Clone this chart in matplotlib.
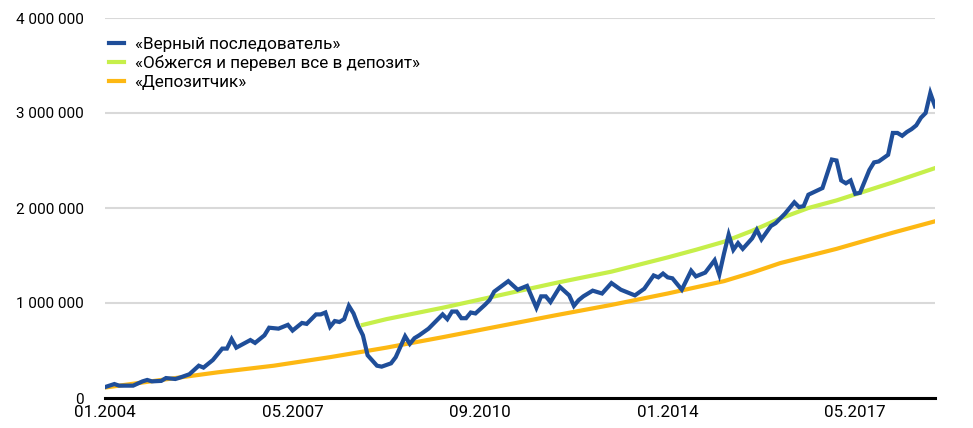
import matplotlib
matplotlib.use('Agg')
import matplotlib.pyplot as plt
from matplotlib.ticker import FuncFormatter

plt.rcParams['font.family'] = ['Roboto', 'DejaVu Sans']

# месяцы от 01.2004 (0 = 01.2004)
blue_month = [0, 2, 3, 6, 8, 9, 10, 12, 13, 15, 16, 18, 20, 21, 23, 25, 26, 27, 28,
              31, 32, 34, 35, 37, 39, 40, 42, 43, 45, 46, 47, 48, 49, 50, 51, 52, 53,
              54, 55, 56, 58, 59, 61, 62, 63, 64, 65, 66, 67, 69, 70, 72, 73, 74, 75,
              76, 77, 78, 79, 81, 82, 83, 86, 88, 90, 92, 93, 94, 95, 97, 99, 100,
              101, 102, 104, 106, 108, 110, 113, 115, 117, 118, 119, 120, 121, 123,
              125, 126, 128, 130, 131, 132, 133, 134, 135, 136, 138, 139, 140, 142,
              143, 145, 147, 148, 149, 150, 153, 155, 156, 157, 158, 159, 160, 161,
              163, 164, 165, 167, 168, 169, 170, 171, 172, 173, 174, 175, 176, 177]
blue_value = [0.115, 0.147, 0.13, 0.13, 0.175, 0.19, 0.175, 0.18, 0.21, 0.20, 0.215,
              0.25, 0.34, 0.32, 0.40, 0.52, 0.52, 0.62, 0.53, 0.61, 0.58, 0.66, 0.74,
              0.73, 0.77, 0.71, 0.79, 0.78, 0.88, 0.88, 0.90, 0.75, 0.81, 0.80, 0.83,
              0.97, 0.89, 0.76, 0.66, 0.45, 0.34, 0.33, 0.365, 0.43, 0.54, 0.65, 0.57,
              0.63, 0.66, 0.73, 0.78, 0.88, 0.83, 0.91, 0.91, 0.84, 0.84, 0.90, 0.89,
              0.98, 1.03, 1.12, 1.23, 1.14, 1.18, 0.95, 1.07, 1.07, 1.01, 1.17, 1.08,
              0.97, 1.03, 1.07, 1.13, 1.10, 1.21, 1.14, 1.08, 1.15, 1.29, 1.27, 1.31,
              1.27, 1.26, 1.14, 1.34, 1.28, 1.32, 1.45, 1.30, 1.52, 1.72, 1.56, 1.63,
              1.57, 1.68, 1.77, 1.67, 1.81, 1.84, 1.94, 2.06, 2.01, 2.02, 2.14, 2.21,
              2.51, 2.50, 2.29, 2.26, 2.29, 2.15, 2.16, 2.40, 2.48, 2.49, 2.56, 2.79,
              2.79, 2.76, 2.80, 2.83, 2.87, 2.95, 3.00, 3.21, 3.07]

green_month = [55, 60, 72, 84, 96, 108, 120, 126, 132, 138, 144, 150, 156, 168, 177]
green_value = [0.77, 0.83, 0.95, 1.08, 1.21, 1.33, 1.48, 1.56, 1.645, 1.76, 1.89,
               2.00, 2.08, 2.27, 2.42]

orange_month = [0, 12, 24, 36, 48, 60, 72, 84, 96, 108, 120, 126, 132, 138, 144,
                156, 168, 177]
orange_value = [0.11, 0.19, 0.27, 0.34, 0.43, 0.53, 0.64, 0.755, 0.87, 0.98, 1.10,
                1.165, 1.23, 1.32, 1.42, 1.57, 1.74, 1.86]

tick_month = [0, 40, 80, 120, 160]
tick_label = ['01.2004', '05.2007', '09.2010', '01.2014', '05.2017']

fig = plt.figure(figsize=(9.73, 4.28), dpi=100)
ax = fig.add_axes([105 / 973, 30 / 428, 830 / 973, 380 / 428])

ax.plot(orange_month, [v * 1e6 for v in orange_value], color='#FDB813', lw=3,
        label='«Депозитчик»', zorder=3)
ax.plot(green_month, [v * 1e6 for v in green_value], color='#C6EF4A', lw=3,
        label='«Обжегся и перевел все в депозит»', zorder=3)
ax.plot(blue_month, [v * 1e6 for v in blue_value], color='#1F4E99', lw=3,
        label='«Верный последователь»', zorder=4, solid_joinstyle='miter')

ax.set_xlim(0, 177)
ax.set_ylim(0, 4e6)
ax.set_yticks([0, 1e6, 2e6, 3e6, 4e6])
ax.yaxis.set_major_formatter(FuncFormatter(lambda v, p: f'{v:,.0f}'.replace(',', ' ')))
ax.set_xticks(tick_month)
ax.set_xticklabels(tick_label)

for s in ['top', 'right', 'left']:
    ax.spines[s].set_visible(False)
ax.spines['bottom'].set_color('black')
ax.spines['bottom'].set_linewidth(2.2)
ax.spines['bottom'].set_zorder(5)
ax.grid(axis='y', color='#d9d9d9', lw=1.5)
ax.set_axisbelow(True)
ax.tick_params(axis='both', length=0)
ax.tick_params(axis='y', pad=15, labelsize=11)
ax.tick_params(axis='x', pad=5, labelsize=12.2)

h, l = ax.get_legend_handles_labels()
order = [2, 1, 0]
ax.legend([h[i] for i in order], [l[i] for i in order], loc='upper left',
          bbox_to_anchor=(109 / 973, 1 - 37 / 428), bbox_transform=fig.transFigure,
          frameon=False, fontsize=12.3, handlelength=0.9, handletextpad=0.6,
          labelspacing=0.2, borderpad=0, borderaxespad=0)

fig.savefig('out.png', dpi=100)
